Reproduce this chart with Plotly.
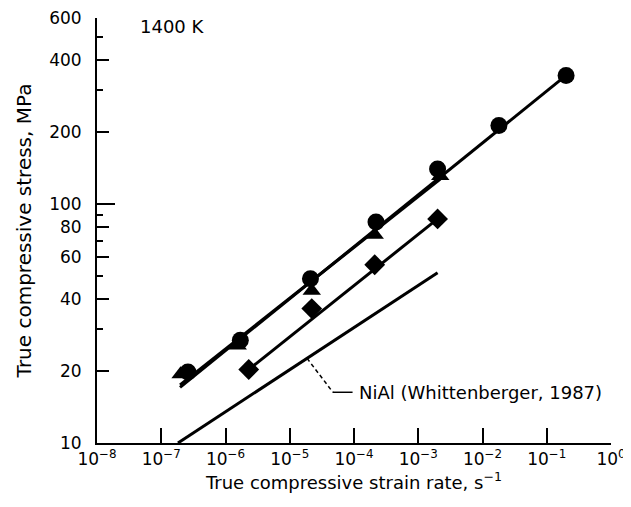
import numpy as np
import plotly.graph_objects as go

# ---- data ----
rate_circle = [2.6e-7, 1.7e-6, 2.1e-5, 2.2e-4, 2.0e-3, 1.8e-2, 2.0e-1]
stress_circle = [19.8, 26.9, 48.7, 84.0, 140.0, 213.0, 345.0]

rate_tri = [2.0e-7, 1.55e-6, 2.2e-5, 2.1e-4, 2.2e-3]
stress_tri = [19.4, 25.6, 43.4, 74.3, 131.0]

rate_dia = [2.3e-6, 2.2e-5, 2.1e-4, 2.0e-3]
stress_dia = [20.3, 36.5, 55.7, 86.6]

fit_circle_rate = [1.96e-7, 2.0e-1]
fit_circle_stress = [17.1, 345.0]
fit_tri_rate = [1.96e-7, 2.2e-3]
fit_tri_stress = [17.5, 127.0]
fit_dia_rate = [2.3e-6, 2.0e-3]
fit_dia_stress = [20.3, 86.6]

nial_rate = [1.82e-7, 2.0e-3]
nial_stress = [10.0, 51.6]

leader_dash_rate = [1.86e-5, 4.7e-5]
leader_dash_stress = [22.6, 16.3]
leader_solid_rate = [4.7e-5, 9.5e-5]
leader_solid_stress = [16.3, 16.3]
nial_label = "NiAl (Whittenberger, 1987)"
nial_label_pos = (1.12e-4, 16.3)

x_tickvals = [10.0 ** e for e in range(-8, 1)]
x_ticktext = ["10<sup>\u2212%d</sup>" % (-e) if e < 0 else "10<sup>0</sup>" for e in range(-8, 1)]
y_tickvals = [10, 20, 40, 60, 80, 100, 200, 400, 600]
y_ticktext = [str(v) for v in y_tickvals]
y_minor = [30, 50, 70, 90, 300, 500]
y_range = [10, 600]

FONT = "DejaVu Sans, Verdana, sans-serif"
LW = 3

fig = go.Figure()

def line(x, y, width=LW, dash="solid"):
    fig.add_trace(go.Scatter(x=x, y=y, mode="lines",
                             line=dict(color="black", width=width, dash=dash),
                             showlegend=False, hoverinfo="skip"))

line(nial_rate, nial_stress)
line(fit_dia_rate, fit_dia_stress)
line(fit_tri_rate, fit_tri_stress)
line(fit_circle_rate, fit_circle_stress)
line(leader_dash_rate, leader_dash_stress, width=1.5, dash="4px,3px")
line(leader_solid_rate, leader_solid_stress, width=1.5)

fig.add_trace(go.Scatter(x=rate_tri, y=stress_tri, mode="markers",
                         marker=dict(symbol="triangle-up", size=16, color="black"),
                         showlegend=False))
fig.add_trace(go.Scatter(x=rate_dia, y=stress_dia, mode="markers",
                         marker=dict(symbol="diamond", size=16, color="black"),
                         showlegend=False))
fig.add_trace(go.Scatter(x=rate_circle, y=stress_circle, mode="markers",
                         marker=dict(symbol="circle", size=17, color="black"),
                         showlegend=False))

fig.add_annotation(x=np.log10(nial_label_pos[0]), y=np.log10(nial_label_pos[1]),
                   xref="x", yref="y", text=nial_label, showarrow=False,
                   xanchor="left", yanchor="middle",
                   font=dict(family=FONT, size=18, color="black"))
fig.add_annotation(x=0.08, y=0.979, xref="paper", yref="paper", text="1400 K",
                   showarrow=False, xanchor="left", yanchor="middle",
                   font=dict(family=FONT, size=18, color="black"))

# longer tick at 100
frac100 = (np.log10(100) - np.log10(y_range[0])) / (np.log10(y_range[1]) - np.log10(y_range[0]))
fig.add_shape(type="line", xref="paper", yref="paper", x0=0, x1=18 / 514,
              y0=frac100, y1=frac100, line=dict(color="black", width=2))

# page has an 8px body margin; the figure is sized so the plot area lands where the reference has it
fig.update_layout(
    width=623, height=499,
    margin=dict(l=89, r=20, t=10, b=64, autoexpand=False),
    paper_bgcolor="white", plot_bgcolor="white",
    font=dict(family=FONT, size=18, color="black"),
    showlegend=False,
)
fig.update_xaxes(
    type="log", range=[-8, 0], automargin=False,
    tickvals=x_tickvals, ticktext=x_ticktext, ticklabeloverflow="allow",
    ticks="inside", ticklen=15, tickwidth=2, tickcolor="black",
    showline=True, linewidth=2, linecolor="black", mirror=False,
    showgrid=False, zeroline=False,
    tickfont=dict(family=FONT, size=17),
    title=dict(text="True compressive strain rate, s<sup>\u22121</sup>",
               font=dict(family=FONT, size=18), standoff=6),
)
fig.update_yaxes(
    type="log", range=[np.log10(y_range[0]), np.log10(y_range[1])], automargin=False,
    tickvals=y_tickvals, ticktext=y_ticktext, ticklabeloverflow="allow",
    ticks="inside", ticklen=12, tickwidth=2, tickcolor="black",
    minor=dict(tickvals=y_minor, ticks="inside", ticklen=6, tickwidth=2, tickcolor="black", showgrid=False),
    showline=True, linewidth=2, linecolor="black", mirror=False,
    showgrid=False, zeroline=False,
    ticklabelstandoff=10,
    tickfont=dict(family=FONT, size=17),
    title=dict(text="True compressive stress, MPa",
               font=dict(family=FONT, size=20), standoff=12),
)

fig.write_html("out.html")
